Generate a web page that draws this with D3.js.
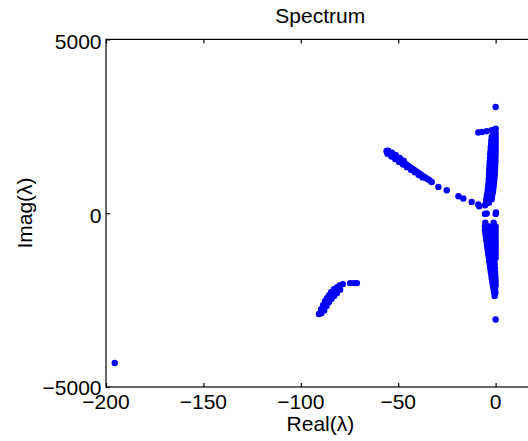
<!DOCTYPE html>
<html>
<head>
<meta charset="utf-8">
<script src="https://cdn.jsdelivr.net/npm/d3@7"></script>
<style>
  html, body { margin: 0; padding: 0; background: #fff; }
  text { font-family: "Liberation Sans", Arial, Helvetica, sans-serif; fill: #000; }
</style>
</head>
<body>
<svg id="chart" width="528" height="441"></svg>
<script>
// ---- data (Real, Imag) ----
const titleText = "Spectrum";
const xLabel = "Real(λ)";
const yLabel = "Imag(λ)";
const xTicks = [-200, -150, -100, -50, 0];
const yTicks = [-5000, 0, 5000];

const isolated = [[-195.5, -4310], [0, 3055], [0, -3060]];

const branch = [
  [-56, 1790], [-55, 1760], [-54, 1725], [-53, 1690], [-52, 1650], [-51, 1610],
  [-50, 1570], [-49, 1530], [-48, 1490], [-47, 1450], [-46, 1410], [-45, 1370],
  [-44, 1330], [-43, 1290], [-42, 1250], [-41, 1210], [-40, 1175], [-39, 1135],
  [-38, 1095], [-37, 1055], [-36, 1020], [-35, 985], [-34, 950],
  [-55.5, 1710], [-53.5, 1630], [-51.5, 1555], [-49.5, 1475], [-47.5, 1400],
  [-45.5, 1325], [-43.5, 1250], [-41.5, 1175], [-39.5, 1100], [-37.5, 1030],
  [-55.2, 1800], [-53.2, 1740], [-51.2, 1670], [-49.2, 1590], [-47.2, 1510],
  [-32.8, 899], [-29.4, 756], [-25.1, 661], [-19.1, 489], [-16.6, 422],
  [-12.3, 325], [-8.4, 201]
];

const nearOrigin = [[-8.9, 250], [-5.4, 230], [-4.6, -10], [0.2, 20]];

const upperBand = [
  [0, 2433], [-2, 2385], [-4.6, 2356], [-7.1, 2336], [-8.9, 2320],
  [-1, 2300], [0, 2300],
  [-2, 2200], [-0.5, 2200], [0, 2200],
  [-2.2, 2100], [-1, 2100], [0, 2100],
  [-2.3, 2000], [-1, 2000], [0, 2000],
  [-2.5, 1900], [-1, 1900], [0, 1900],
  [-2.6, 1800], [-1.2, 1800], [0, 1800],
  [-2.8, 1700], [-1.3, 1700], [0, 1700],
  [-2.9, 1600], [-1.4, 1600], [-0.1, 1600],
  [-3, 1500], [-1.5, 1500], [-0.1, 1500],
  [-3.1, 1400], [-1.6, 1400], [-0.2, 1400],
  [-3.2, 1300], [-1.7, 1300], [-0.3, 1300],
  [-3.3, 1200], [-1.8, 1200], [-0.4, 1200],
  [-3.4, 1100], [-2, 1100], [-0.5, 1100],
  [-3.5, 1000], [-2, 1000], [-0.6, 1000],
  [-3.6, 900], [-2.2, 900], [-0.8, 900],
  [-3.8, 800], [-2.3, 800], [-1, 800],
  [-4, 700], [-2.5, 700], [-1.2, 700],
  [-4.2, 600], [-2.7, 600], [-1.4, 600],
  [-4.5, 500], [-3, 500], [-1.8, 500],
  [-4.8, 400], [-3.2, 400], [-2, 400],
  [-5, 300], [-3.5, 300]
];

const lowerBand = [
  [-5.5, -20], [0, -20],
  [-5.3, -270], [-1, -270],
  [-5.5, -380], [-3.5, -380], [-1.5, -380], [0, -380],
  [-5.5, -480], [-3.5, -480], [-1.5, -480], [0, -480],
  [-5.3, -580], [-3.3, -580], [-1.5, -580], [0, -580],
  [-5, -680], [-3, -680], [-1.3, -680], [0, -680],
  [-4.8, -780], [-3, -780], [-1.3, -780], [0, -780],
  [-4.5, -880], [-2.8, -880], [-1.2, -880], [0, -880],
  [-4.3, -980], [-2.6, -980], [-1.1, -980], [0, -980],
  [-4, -1080], [-2.4, -1080], [-1, -1080], [0, -1080],
  [-3.8, -1180], [-2.2, -1180], [-1, -1180], [0, -1180],
  [-3.5, -1280], [-2, -1280], [-0.8, -1280], [0, -1280],
  [-3.3, -1380], [-1.8, -1380], [-0.6, -1380],
  [-3, -1480], [-1.6, -1480], [-0.5, -1480],
  [-2.8, -1580], [-1.4, -1580], [-0.4, -1580],
  [-2.5, -1680], [-1.2, -1680], [-0.3, -1680],
  [-2.2, -1780], [-1, -1780], [-0.2, -1780],
  [-2, -1880], [-0.8, -1880], [-0.1, -1880],
  [-1.7, -1980], [-0.6, -1980], [0, -1980],
  [-1.4, -2080], [-0.5, -2080], [0, -2080],
  [-1.1, -2180], [-0.3, -2180],
  [-0.8, -2280], [-0.1, -2280],
  [-0.5, -2380]
];

const arc = [
  [-90.7, -2902], [-89.6, -2759], [-88.6, -2644], [-87.6, -2529], [-86.6, -2443],
  [-85.5, -2356], [-84.5, -2270], [-83.0, -2184], [-81.4, -2126], [-79.9, -2069],
  [-78.4, -2040],
  [-89.5, -2880], [-88.4, -2740], [-87.3, -2620], [-86.2, -2505], [-85.2, -2420],
  [-84.1, -2335], [-83.0, -2255], [-81.6, -2180], [-80.1, -2125],
  [-88.0, -2800], [-86.8, -2670], [-85.6, -2560], [-84.3, -2470], [-82.9, -2380],
  [-81.5, -2300], [-79.8, -2200],
  [-74.7, -2011], [-72.7, -2011], [-71.2, -2011]
];

// ---- layout ----
const W = 528, H = 441;
const pLeft = 106, pTop = 39.4, pBottom = 387;
const x = d3.scaleLinear().domain([-200, 20]).range([pLeft, 534.6]);
const y = d3.scaleLinear().domain([-5000, 5000]).range([pBottom, pTop]);
const fmt = d3.format("d");
const fs = 21;

const svg = d3.select("#chart");
svg.append("rect").attr("width", W).attr("height", H).attr("fill", "#fff");

// points
const all = [].concat(isolated, branch, nearOrigin, upperBand, lowerBand, arc);
svg.append("g").selectAll("circle").data(all).join("circle")
  .attr("cx", d => x(d[0])).attr("cy", d => y(d[1]))
  .attr("r", 3.2).attr("fill", "#0000ff");

// box
const xr = x.range(), yr = y.range();
const box = svg.append("g").attr("stroke", "#000").attr("stroke-width", 1.2).attr("fill", "none");
box.append("rect").attr("x", xr[0]).attr("y", yr[1]).attr("width", xr[1] - xr[0]).attr("height", yr[0] - yr[1]);

// axes with inward ticks
const xAxisB = d3.axisBottom(x).tickValues(xTicks).tickSize(-4).tickFormat(() => "");
const gxb = svg.append("g").attr("transform", `translate(0,${pBottom})`).call(xAxisB);
const xAxisT = d3.axisTop(x).tickValues(xTicks).tickSize(-4).tickFormat(() => "");
const gxt = svg.append("g").attr("transform", `translate(0,${pTop})`).call(xAxisT);
const yAxisL = d3.axisLeft(y).tickValues(yTicks).tickSize(-4).tickFormat(() => "");
const gyl = svg.append("g").attr("transform", `translate(${pLeft},0)`).call(yAxisL);
[gxb, gxt, gyl].forEach(g => {
  g.select(".domain").remove();
  g.selectAll(".tick line").attr("stroke", "#000").attr("stroke-width", 1.2);
});

// tick labels
svg.append("g").selectAll("text").data(xTicks).join("text")
  .attr("x", d => x(d)).attr("y", pBottom + 22)
  .attr("text-anchor", "middle").attr("font-size", fs)
  .text(d => fmt(d));
svg.append("g").selectAll("text").data(yTicks).join("text")
  .attr("x", pLeft - 4.5).attr("y", d => y(d) + (d === -5000 ? 7.5 : 9.8))
  .attr("text-anchor", "end").attr("font-size", fs)
  .text(d => fmt(d));

// labels
svg.append("text").attr("x", (xr[0] + xr[1]) / 2).attr("y", 22.5)
  .attr("text-anchor", "middle").attr("font-size", fs).text(titleText);
svg.append("text").attr("x", 320.4).attr("y", 431)
  .attr("text-anchor", "middle").attr("font-size", fs).text(xLabel);
svg.append("text").attr("transform", "translate(31.5,213) rotate(-90)")
  .attr("text-anchor", "middle").attr("font-size", fs).text(yLabel);
</script>
</body>
</html>
